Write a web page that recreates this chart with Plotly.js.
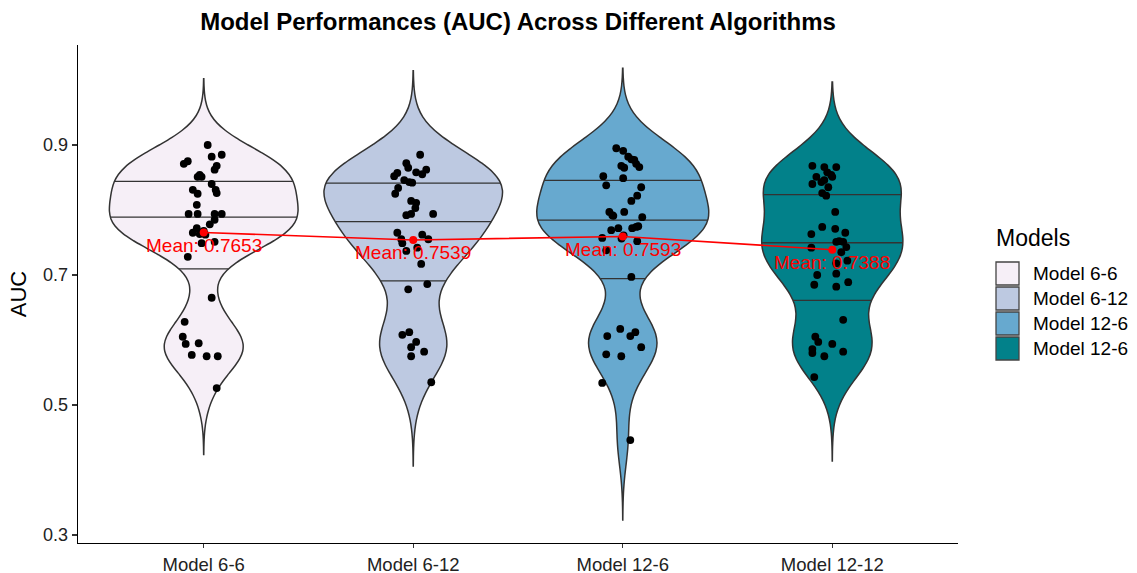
<!DOCTYPE html>
<html><head><meta charset="utf-8">
<script src="https://cdn.plot.ly/plotly-3.0.1.min.js"></script>
<style>html,body{margin:0;padding:0;background:#fff}#chart{width:1137px;height:573px}</style>
</head><body><div id="chart"></div>
<script>
// ---------------- data ----------------
const models = ['Model 6-6', 'Model 6-12', 'Model 12-6', 'Model 12-12'];
const legendNames = ['Model 6-6', 'Model 6-12', 'Model 12-6', 'Model 12-6'];
const colors = ['#f6eff7', '#bdc9e1', '#67a9cf', '#02818a'];
const yTicks = [0.3, 0.5, 0.7, 0.9];

const auc66 = [0.900,0.882,0.885,0.871,0.875,0.868,0.862,0.854,0.851,0.851,0.840,0.831,0.825,0.831,0.826,0.808,0.794,0.794,0.794,0.794,0.785,0.778,0.772,0.765,0.763,0.751,0.749,0.728,0.665,0.628,0.605,0.594,0.595,0.577,0.575,0.575,0.526,0.768,0.762];
const jit66 = [0.019,0.038,0.086,-0.095,-0.076,0.062,0.052,-0.019,-0.010,-0.029,0.038,-0.052,-0.029,0.057,0.062,-0.033,-0.072,-0.029,0.052,0.086,0.052,0.029,-0.033,-0.052,-0.019,0.052,-0.010,-0.076,0.038,-0.091,-0.100,-0.086,-0.024,-0.057,0.014,0.067,0.062,0.000,0.008];

const auc612 = [0.885,0.872,0.865,0.852,0.857,0.862,0.855,0.858,0.846,0.843,0.842,0.834,0.825,0.814,0.811,0.803,0.792,0.794,0.794,0.765,0.755,0.762,0.755,0.749,0.737,0.742,0.717,0.678,0.686,0.608,0.612,0.597,0.589,0.575,0.582,0.535];
const jit612 = [0.033,-0.033,-0.024,-0.091,-0.076,0.062,0.043,0.014,-0.043,-0.019,-0.005,-0.072,-0.086,-0.010,0.014,0.010,-0.033,-0.010,0.095,-0.076,-0.057,0.043,0.072,-0.052,-0.033,0.019,0.038,-0.024,0.067,-0.052,-0.019,0.014,-0.010,-0.010,0.052,0.086];

const auc126 = [0.895,0.891,0.882,0.878,0.877,0.871,0.866,0.868,0.865,0.852,0.838,0.849,0.835,0.822,0.814,0.797,0.797,0.792,0.791,0.789,0.769,0.772,0.772,0.774,0.775,0.757,0.752,0.738,0.697,0.606,0.617,0.606,0.612,0.589,0.578,0.575,0.534,0.446,0.761,0.756];
const jit126 = [-0.031,0.002,0.026,0.041,0.055,0.064,0.079,-0.007,0.007,-0.093,-0.079,0.002,0.088,0.069,0.041,0.007,-0.064,-0.050,-0.045,0.093,-0.055,-0.021,0.045,0.064,0.074,-0.098,0.069,-0.079,0.041,-0.074,-0.012,0.036,0.060,0.088,-0.079,-0.007,-0.098,0.036,0.004,-0.006];

const auc1212 = [0.868,0.866,0.866,0.858,0.854,0.851,0.851,0.843,0.846,0.840,0.835,0.826,0.822,0.797,0.774,0.771,0.763,0.765,0.751,0.752,0.751,0.743,0.742,0.735,0.722,0.718,0.702,0.700,0.685,0.682,0.689,0.631,0.605,0.597,0.586,0.580,0.594,0.575,0.582,0.543];
const jit1212 = [-0.095,-0.038,0.019,-0.024,-0.005,0,-0.076,-0.052,-0.038,-0.095,-0.019,-0.048,-0.029,0.014,-0.048,0.014,-0.100,0.062,0.019,0.033,0.052,0.067,-0.100,0.043,0.072,0.019,0.019,-0.072,-0.086,0.019,0.076,0.052,-0.081,-0.067,-0.095,-0.095,0,-0.038,0.052,-0.086];

const means = [0.7653, 0.7539, 0.7593, 0.7388];
const bandwidths = [0.034, 0.043, 0.041, 0.043];
const quantileProbs = [0.25, 0.5, 0.75];

// ---------------- helpers ----------------
const groups = [auc66, auc612, auc126, auc1212];
const jitters = [jit66, jit612, jit126, jit1212];
const FONT = 'Liberation Sans, Arial, Helvetica, sans-serif';
const OUTLINE = '#333333';

function kde(vals, bw, t) {
  let s = 0;
  for (const v of vals) { const u = (t - v) / bw; s += Math.exp(-0.5 * u * u); }
  return s / (vals.length * bw * Math.sqrt(2 * Math.PI));
}
function spanOf(i) {
  const v = groups[i];
  return [Math.min(...v) - 3 * bandwidths[i], Math.max(...v) + 3 * bandwidths[i]];
}
// quantiles of the density estimate (as ggplot's draw_quantiles)
function densityQuantiles(i) {
  const [lo, hi] = spanOf(i);
  const n = 512, ys = [], cum = [];
  let s = 0;
  for (let k = 0; k < n; k++) {
    const t = lo + (hi - lo) * k / (n - 1);
    ys.push(t); s += kde(groups[i], bandwidths[i], t); cum.push(s);
  }
  const c = cum.map(v => v / s);
  return quantileProbs.map(p => {
    for (let k = 1; k < n; k++) {
      if (c[k] >= p) {
        const f = (p - c[k - 1]) / (c[k] - c[k - 1]);
        return ys[k - 1] + f * (ys[k] - ys[k - 1]);
      }
    }
    return ys[n - 1];
  });
}

const violinTraces = groups.map((vals, i) => ({
  type: 'violin', orientation: 'v',
  x: vals.map(() => i), y: vals,
  name: legendNames[i],
  fillcolor: colors[i], opacity: 1,
  line: { color: OUTLINE, width: 1.5 },
  points: false, box: { visible: false }, meanline: { visible: false },
  spanmode: 'manual', span: spanOf(i), bandwidth: bandwidths[i],
  scalegroup: 'all', scalemode: 'width',
  showlegend: false, hoverinfo: 'skip'
}));

const pointTraces = groups.map((vals, i) => ({
  type: 'scatter', mode: 'markers',
  x: vals.map((_, k) => i + jitters[i][k]), y: vals,
  marker: { color: '#000000', size: 7.8 },
  showlegend: false, hoverinfo: 'skip'
}));

const meanTrace = {
  type: 'scatter', mode: 'lines+markers',
  x: models.map((_, i) => i), y: means,
  line: { color: '#ff0000', width: 1.6 },
  marker: { color: '#ff0000', size: 8 },
  showlegend: false, hoverinfo: 'skip'
};

// ---------------- layout ----------------
const L = 78, R = 958, T = 45, B = 543;
const px2x = x => (x - L) / (R - L);
const px2y = y => (B - y) / (B - T);

const annotations = means.map((m, i) => ({
  x: i, y: m, xref: 'x', yref: 'y',
  text: 'Mean: ' + m.toFixed(4), showarrow: false,
  yshift: -13, font: { family: FONT, size: 19, color: '#ff0000' }
}));
const shapes = [];
// manual legend (ggplot-like square keys)
annotations.push({
  xref: 'paper', yref: 'paper', x: px2x(994), y: px2y(238), xanchor: 'left', yanchor: 'middle',
  text: 'Models', showarrow: false, font: { family: FONT, size: 23, color: '#000' }
});
legendNames.forEach((name, k) => {
  const top = 262 + 25 * k;
  shapes.push({
    type: 'rect', xref: 'paper', yref: 'paper',
    x0: px2x(996), x1: px2x(1019), y0: px2y(top + 23), y1: px2y(top),
    fillcolor: colors[k], line: { color: '#444444', width: 1.3 }
  });
  annotations.push({
    xref: 'paper', yref: 'paper', x: px2x(1031), y: px2y(top + 11.5), xanchor: 'left', yanchor: 'middle',
    text: name, showarrow: false, font: { family: FONT, size: 19, color: '#000' }
  });
});

const layout = {
  width: 1137, height: 573,
  margin: { l: L, r: 1137 - R, t: T, b: 573 - B, pad: 0 },
  paper_bgcolor: '#ffffff', plot_bgcolor: '#ffffff',
  font: { family: FONT, color: '#000' },
  showlegend: false,
  violinmode: 'overlay', violingap: 0.1, violingroupgap: 0,
  title: {
    text: '<b>Model Performances (AUC) Across Different Algorithms</b>',
    xref: 'paper', x: 0.5, xanchor: 'center',
    yref: 'container', y: 1 - 22 / 573, yanchor: 'middle',
    font: { family: FONT, size: 24, color: '#000' }
  },
  xaxis: {
    type: 'linear', range: [-0.6, 3.6], tickvals: models.map((_, i) => i), ticktext: models,
    showgrid: false, zeroline: false, showline: true, linecolor: '#000', linewidth: 1.3,
    ticks: 'outside', ticklen: 4, tickcolor: '#333', tickwidth: 1.2,
    tickfont: { family: FONT, size: 18.5, color: '#222' }
  },
  yaxis: {
    type: 'linear', range: [0.2877, 1.0538], tickvals: yTicks, ticktext: yTicks.map(v => v.toFixed(1)),
    showgrid: false, zeroline: false, showline: true, linecolor: '#000', linewidth: 1.3,
    ticks: 'outside', ticklen: 5, tickcolor: '#333', tickwidth: 1.2,
    tickfont: { family: FONT, size: 18, color: '#222' },
    title: { text: 'AUC', font: { family: FONT, size: 22, color: '#000' }, standoff: 10 }
  },
  annotations: annotations, shapes: shapes
};
const config = { staticPlot: true, displayModeBar: false };

const gd = document.getElementById('chart');
Plotly.newPlot(gd, violinTraces, layout, config).then(() => {
  // read the library's own violin scaling to size the quantile segments
  let groupMax = 0;
  const bdPos = [];
  groups.forEach((vals, i) => {
    const cd = gd.calcdata && gd.calcdata[i] && gd.calcdata[i][0];
    if (cd && cd.density) cd.density.forEach(p => { groupMax = Math.max(groupMax, p.v); });
    bdPos.push(cd && cd.t && cd.t.bdPos ? cd.t.bdPos : 0.45);
  });
  if (!groupMax) groups.forEach((vals, i) => {
    const [lo, hi] = spanOf(i);
    for (let k = 0; k <= 400; k++) groupMax = Math.max(groupMax, kde(vals, bandwidths[i], lo + (hi - lo) * k / 400));
  });
  const qTraces = groups.map((vals, i) => {
    const xs = [], ys = [];
    densityQuantiles(i).forEach(q => {
      const half = kde(vals, bandwidths[i], q) / groupMax * bdPos[i];
      xs.push(i - half, i + half, null); ys.push(q, q, null);
    });
    return { type: 'scatter', mode: 'lines', x: xs, y: ys, line: { color: OUTLINE, width: 1.3 }, showlegend: false, hoverinfo: 'skip' };
  });
  return Plotly.react(gd, violinTraces.concat(qTraces, pointTraces, [meanTrace]), layout, config);
});
</script>
</body></html>
